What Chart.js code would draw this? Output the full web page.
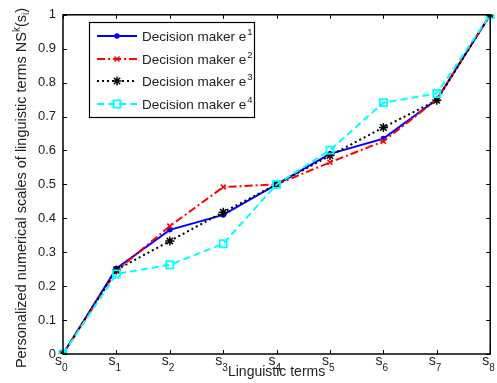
<!DOCTYPE html>
<html>
<head>
<meta charset="utf-8">
<script src="https://cdn.jsdelivr.net/npm/chart.js@4"></script>
<style>
  html, body { margin: 0; padding: 0; background: #fff; }
  #wrap { width: 497px; height: 383px; position: relative; }
</style>
</head>
<body>
<div id="wrap"><canvas id="chart"></canvas></div>
<script>
// linguistic terms s0..s8
const termIndex = ['0', '1', '2', '3', '4', '5', '6', '7', '8'];
const yTicks = [0, 0.1, 0.2, 0.3, 0.4, 0.5, 0.6, 0.7, 0.8, 0.9, 1];

const e1 = [0, 0.252, 0.366, 0.41, 0.5, 0.59, 0.635, 0.75, 1];
const e2 = [0, 0.245, 0.377, 0.492, 0.5, 0.565, 0.627, 0.75, 1];
const e3 = [0, 0.248, 0.333, 0.418, 0.5, 0.585, 0.668, 0.748, 1];
const e4 = [0, 0.236, 0.263, 0.325, 0.5, 0.601, 0.741, 0.768, 1];

const FONT = '"Liberation Sans", Arial, sans-serif';

const series = [
  {name: '1', data: e1, color: '#0000ff', dash: [], style: 'circle', radius: 2, fill: true},
  {name: '2', data: e2, color: '#ff0000', dash: [8, 3, 2, 3], style: 'crossRot', radius: 3.5, fill: false},
  {name: '3', data: e3, color: '#000000', dash: [2, 3], style: 'star', radius: 4.5, fill: true},
  {name: '4', data: e4, color: '#00ffff', dash: [7, 4], style: 'rect', radius: 5, fill: false}
];

// frame, inward ticks, subscript x labels, axis titles, legend
const decorPlugin = {
  id: 'decor',
  afterDraw(chart) {
    const {ctx, chartArea: a, scales} = chart;
    const xs = scales.x, ys = scales.y;
    ctx.save();
    ctx.strokeStyle = '#000';
    ctx.lineWidth = 1.5;
    ctx.setLineDash([]);
    ctx.strokeRect(a.left, a.top, a.right - a.left, a.bottom - a.top);

    ctx.lineWidth = 1;
    ctx.beginPath();
    termIndex.forEach((t, i) => {
      const x = Math.round(xs.getPixelForValue(i)) + 0.5;
      ctx.moveTo(x, a.bottom); ctx.lineTo(x, a.bottom - 4);
      ctx.moveTo(x, a.top); ctx.lineTo(x, a.top + 4);
    });
    yTicks.forEach((v) => {
      const y = Math.round(ys.getPixelForValue(v)) + 0.5;
      ctx.moveTo(a.left, y); ctx.lineTo(a.left + 4, y);
      ctx.moveTo(a.right, y); ctx.lineTo(a.right - 4, y);
    });
    ctx.stroke();

    // x tick labels s with subscript
    ctx.fillStyle = '#222';
    ctx.textBaseline = 'alphabetic';
    termIndex.forEach((t, i) => {
      const x = xs.getPixelForValue(i);
      ctx.font = '14px ' + FONT;
      ctx.textAlign = 'right';
      ctx.fillText('s', x - 1, 365);
      ctx.font = '10px ' + FONT;
      ctx.textAlign = 'left';
      ctx.fillText(t, x - 1, 371);
    });

    // x title
    ctx.font = '14px ' + FONT;
    ctx.textAlign = 'center';
    ctx.fillText('Linguistic terms', (a.left + a.right) / 2, 376);

    // y title, rotated
    ctx.save();
    ctx.translate(26, 188);
    ctx.rotate(-Math.PI / 2);
    const parts = [
      {t: 'Personalized numerical scales of linguistic terms NS', f: 14.5, dy: 0},
      {t: 'k', f: 10, dy: -6},
      {t: '(s', f: 14.5, dy: 0},
      {t: 'i', f: 10, dy: 3},
      {t: ')', f: 14.5, dy: 0}
    ];
    let total = 0;
    parts.forEach(p => { ctx.font = p.f + 'px ' + FONT; total += ctx.measureText(p.t).width; });
    let cx = -total / 2;
    ctx.textAlign = 'left';
    parts.forEach(p => {
      ctx.font = p.f + 'px ' + FONT;
      ctx.fillText(p.t, cx, p.dy);
      cx += ctx.measureText(p.t).width;
    });
    ctx.restore();

    // legend
    const lx = 89, ly = 22, lw = 165, lh = 95;
    ctx.fillStyle = '#fff';
    ctx.fillRect(lx, ly, lw, lh);
    ctx.strokeStyle = '#000';
    ctx.lineWidth = 1.2;
    ctx.strokeRect(lx + 0.5, ly + 0.5, lw, lh);
    const rows = [36, 59, 81, 104];
    series.forEach((s, i) => {
      const y = rows[i];
      ctx.strokeStyle = s.color;
      ctx.lineWidth = 2;
      ctx.setLineDash(s.dash);
      ctx.beginPath();
      ctx.moveTo(97, y); ctx.lineTo(137, y);
      ctx.stroke();
      ctx.setLineDash([]);
      ctx.fillStyle = s.fill ? s.color : 'rgba(0,0,0,0)';
      ctx.lineWidth = s.style === 'rect' ? 1.8 : 1.5;
      Chart.helpers.drawPoint(ctx, {pointStyle: s.style, radius: s.radius, rotation: 0, borderWidth: ctx.lineWidth}, 117, y);
      ctx.fillStyle = '#222';
      ctx.font = '13.5px ' + FONT;
      ctx.textAlign = 'left';
      ctx.fillText('Decision maker e', 142, y + 5);
      const w = ctx.measureText('Decision maker e').width;
      ctx.font = '9.5px ' + FONT;
      ctx.fillText(s.name, 142 + w + 1, y - 1);
    });
    ctx.restore();
  }
};

new Chart(document.getElementById('chart'), {
  type: 'line',
  data: {
    labels: termIndex,
    datasets: series.map((s, i) => ({
      label: 'Decision maker e' + s.name,
      data: s.data,
      borderColor: s.color,
      backgroundColor: s.fill ? s.color : 'rgba(0,0,0,0)',
      borderWidth: 2,
      borderDash: s.dash,
      pointStyle: s.style,
      pointRadius: s.radius,
      pointBorderColor: s.color,
      pointBackgroundColor: s.fill ? s.color : 'rgba(0,0,0,0)',
      pointBorderWidth: s.style === 'rect' ? 1.8 : 1.5,
      tension: 0,
      order: 4 - i
    }))
  },
  options: {
    responsive: true,
    maintainAspectRatio: false,
    animation: false,
    layout: {padding: {left: 0, right: 2, top: 13, bottom: 0}},
    scales: {
      x: {
        type: 'category',
        offset: false,
        grid: {display: false, drawTicks: false},
        border: {display: false},
        ticks: {display: false},
        afterFit(scale) { scale.height = 29; }
      },
      y: {
        min: 0,
        max: 1,
        afterBuildTicks(scale) { scale.ticks = yTicks.map(v => ({value: v})); },
        grid: {display: false, drawTicks: false},
        border: {display: false},
        ticks: {
          color: '#222',
          padding: 7,
          font: {family: FONT, size: 13},
          callback: (v) => v === 0 || v === 1 ? String(v) : v.toFixed(1)
        },
        afterFit(scale) { scale.width = 63; }
      }
    },
    plugins: {
      legend: {display: false},
      tooltip: {enabled: false}
    }
  },
  plugins: [decorPlugin]
});
</script>
</body>
</html>
